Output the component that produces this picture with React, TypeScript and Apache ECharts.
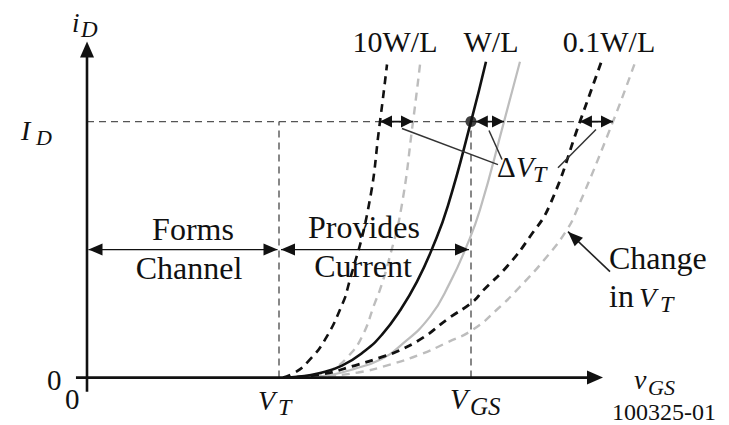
import React, { useEffect, useRef } from "react";
import * as echarts from "echarts";

// Key voltages / current (arbitrary units)
const VT = 2.0;
const VGS = 4.0;
const ID = 1.0;

// Axis extents (data units)
const X_AXIS = [-0.115, 5.375];
const Y_AXIS = [-0.055, 1.3125];

// Curves: [vGS, iD]
const curve10WL: [number, number][] = [
  [2.042, 0], [2.167, 0.02], [2.302, 0.0625], [2.479, 0.148], [2.667, 0.293],
  [2.719, 0.355], [2.927, 0.656], [3.052, 1.0], [3.125, 1.223],
];
const curve10WLShift: [number, number][] = [
  [2.219, 0], [2.375, 0.004], [2.552, 0.031], [2.719, 0.082], [2.865, 0.16],
  [3.0, 0.293], [3.0625, 0.355], [3.146, 0.461], [3.271, 0.656], [3.396, 1.0], [3.469, 1.223],
];
const curveWL: [number, number][] = [
  [2.042, 0], [2.219, 0.004], [2.406, 0.016], [2.656, 0.047], [2.896, 0.105],
  [3.073, 0.168], [3.26, 0.262], [3.4375, 0.375], [3.604, 0.512], [3.76, 0.672],
  [4.0, 1.0], [4.156, 1.234],
];
const curveWLShift: [number, number][] = [
  [2.271, 0], [2.531, 0.01], [2.792, 0.035], [3.052, 0.07], [3.26, 0.123],
  [3.573, 0.238], [3.781, 0.371], [3.948, 0.508], [4.094, 0.656], [4.344, 1.0], [4.51, 1.234],
];
const curve01WL: [number, number][] = [
  [2.042, 0], [2.427, 0.012], [2.823, 0.051], [3.052, 0.078], [3.229, 0.102],
  [3.5, 0.156], [3.75, 0.227], [4.021, 0.297], [4.125, 0.34], [4.375, 0.434],
  [4.615, 0.551], [4.823, 0.676], [5.135, 1.0], [5.354, 1.23],
];
const curve01WLShift: [number, number][] = [
  [2.219, 0], [2.427, 0.004], [2.823, 0.02], [3.156, 0.051], [3.469, 0.09],
  [3.75, 0.137], [4.021, 0.1875], [4.271, 0.266], [4.51, 0.355], [4.792, 0.473],
  [5.0, 0.578], [5.104, 0.656], [5.479, 1.0], [5.708, 1.23],
];

// Delta-VT spans at iD = ID
const deltaSpans: [number, number][] = [
  [3.052, 3.396],
  [4.05, 4.344],
  [5.135, 5.479],
];

// Leader lines to the ΔVT label, [x1, y1, x2, y2]
const leaders: [number, number, number, number][] = [
  [3.281, 0.973, 4.281, 0.832],
  [4.1875, 0.965, 4.323, 0.852],
  [5.302, 0.969, 4.906, 0.82],
];
const changeArrow: [number, number, number, number] = [5.448, 0.414, 5.01, 0.57];
const regionArrowY = 0.5;

const SERIF = "'Liberation Serif', 'DejaVu Serif', serif";
const BLACK = "#111";
const GRAY = "#bdbdbd";
const REF = "#555";

export default function App() {
  const ref = useRef<HTMLDivElement>(null);

  useEffect(() => {
    if (!ref.current) return;
    const chart = echarts.init(ref.current, null, { renderer: "svg" });

    const lineSeries = (data: [number, number][], color: string, width: number, dashed: boolean) => ({
      type: "line",
      data,
      showSymbol: false,
      smooth: 0.5,
      clip: false,
      silent: true,
      z: 3,
      lineStyle: { color, width, type: dashed ? [8, 6] : "solid", cap: "butt" },
    });

    chart.setOption({
      animation: false,
      backgroundColor: "#ffffff",
      grid: { left: 39, top: 32, width: 624, height: 384, show: false },
      xAxis: { type: "value", min: -0.5, max: 6.0, show: false },
      yAxis: { type: "value", min: -0.15, max: 1.35, show: false },
      series: [
        lineSeries(curve10WLShift, GRAY, 2.4, true),
        lineSeries(curveWLShift, GRAY, 2.2, false),
        lineSeries(curve01WLShift, GRAY, 2.4, true),
        lineSeries(curve10WL, BLACK, 2.6, true),
        lineSeries(curveWL, BLACK, 2.6, false),
        lineSeries(curve01WL, BLACK, 2.8, true),
        {
          type: "scatter",
          data: [[VGS, ID]],
          symbolSize: 11,
          itemStyle: { color: BLACK },
          silent: true,
          z: 6,
        },
      ],
    });

    const p = (x: number, y: number): number[] =>
      chart.convertToPixel({ gridIndex: 0 }, [x, y]) as number[];

    const g: any[] = [];
    const line = (a: number[], b: number[], stroke: string, lineWidth: number, dash?: number[], z = 1) => {
      g.push({
        type: "line",
        z,
        shape: { x1: a[0], y1: a[1], x2: b[0], y2: b[1] },
        style: { stroke, lineWidth, lineDash: dash, fill: null },
        silent: true,
      });
    };
    const head = (tip: number[], from: number[], L: number, W: number, z = 8) => {
      const dx = tip[0] - from[0];
      const dy = tip[1] - from[1];
      const len = Math.hypot(dx, dy) || 1;
      const ux = dx / len, uy = dy / len;
      const nx = -uy, ny = ux;
      const bx = tip[0] - ux * L, by = tip[1] - uy * L;
      g.push({
        type: "polygon",
        z,
        shape: { points: [[tip[0], tip[1]], [bx + nx * W, by + ny * W], [bx - nx * W, by - ny * W]] },
        style: { fill: BLACK },
        silent: true,
      });
    };
    const text = (s: string, x: number, base: number, size: number, opts: any = {}) => {
      g.push({
        type: "text",
        z: 9,
        x,
        y: base - size * 0.34,
        style: {
          text: s,
          fontFamily: SERIF,
          fontSize: size,
          fontStyle: opts.italic ? "italic" : "normal",
          fill: BLACK,
          align: opts.align || "left",
          verticalAlign: "middle",
        },
        silent: true,
      });
    };

    // reference dashed lines
    line(p(0, ID), p(5.49, ID), REF, 1.4, [7, 5]);
    line(p(VT, 0), p(VT, ID), REF, 1.4, [7, 5]);
    line(p(VGS, 0), p(VGS, ID), REF, 1.4, [7, 5]);

    // axes
    const xa0 = p(X_AXIS[0], 0), xa1 = p(X_AXIS[1], 0);
    line(xa0, [xa1[0] - 10, xa1[1]], BLACK, 2.6, undefined, 5);
    head(xa1, xa0, 16, 7);
    const ya0 = p(0, Y_AXIS[0]), ya1 = p(0, Y_AXIS[1]);
    line(ya0, [ya1[0], ya1[1] + 10], BLACK, 2.6, undefined, 5);
    head(ya1, ya0, 16, 7);

    // region arrows
    const f0 = p(0, regionArrowY), f1 = p(VT, regionArrowY);
    const a0 = [f0[0] + 1.5, f0[1]], a1 = [f1[0] - 1.5, f1[1]];
    line(a0, a1, BLACK, 1.4, undefined, 5);
    head(a0, a1, 14, 6);
    head(a1, a0, 14, 6);
    const q0 = p(VT, regionArrowY), q1 = p(VGS, regionArrowY);
    const b0 = [q0[0] + 2, q0[1]], b1 = [q1[0] - 2, q1[1]];
    line(b0, b1, BLACK, 1.4, undefined, 5);
    head(b0, b1, 14, 6);
    head(b1, b0, 14, 6);

    // delta VT arrows
    deltaSpans.forEach(([x0, x1]) => {
      const s0 = p(x0, ID), s1 = p(x1, ID);
      line(s0, s1, BLACK, 1.6, undefined, 8);
      head(s0, s1, 12, 6);
      head(s1, s0, 12, 6);
    });

    // leader lines
    leaders.forEach(([x1, y1, x2, y2]) => line(p(x1, y1), p(x2, y2), "#333", 1.5, undefined, 7));

    // change in VT arrow
    const c0 = p(changeArrow[0], changeArrow[1]), c1 = p(changeArrow[2], changeArrow[3]);
    line(c0, c1, "#222", 1.6, undefined, 7);
    head(c1, c0, 15, 6);

    // labels
    text("i", 72, 32, 27, { italic: true });
    text("D", 81, 37, 23, { italic: true });
    text("I", 21, 140, 28, { italic: true });
    text("D", 36, 145, 22, { italic: true });
    text("0", 47, 390, 29);
    text("0", 65, 409, 29);
    text("V", 258, 410, 28, { italic: true });
    text("T", 278, 415, 24, { italic: true });
    text("V", 450, 409, 29, { italic: true });
    text("GS", 470, 415, 25, { italic: true });
    text("v", 634, 389, 28, { italic: true });
    text("GS", 648, 395, 22, { italic: true });
    text("100325-01", 612, 420, 24);

    text("10W/L", 395, 52, 30, { align: "center" });
    text("W/L", 491, 52, 30, { align: "center" });
    text("0.1W/L", 609, 52, 30, { align: "center" });

    text("Forms", 193, 240, 32, { align: "center" });
    text("Channel", 189, 279, 32, { align: "center" });
    text("Provides", 364, 238, 32, { align: "center" });
    text("Current", 363, 277, 32, { align: "center" });

    text("\u0394", 497, 177, 29);
    text("V", 516, 177, 29, { italic: true });
    text("T", 533, 182, 24, { italic: true });

    text("Change", 609, 269, 32);
    text("in", 609, 307, 32);
    text("V", 639, 307, 28, { italic: true });
    text("T", 660, 312, 24, { italic: true });

    chart.setOption({ graphic: { elements: g } });

    return () => chart.dispose();
  }, []);

  return (
    <div
      ref={ref}
      style={{ position: "absolute", left: 0, top: 0, width: 729, height: 425, background: "#fff" }}
    />
  );
}
